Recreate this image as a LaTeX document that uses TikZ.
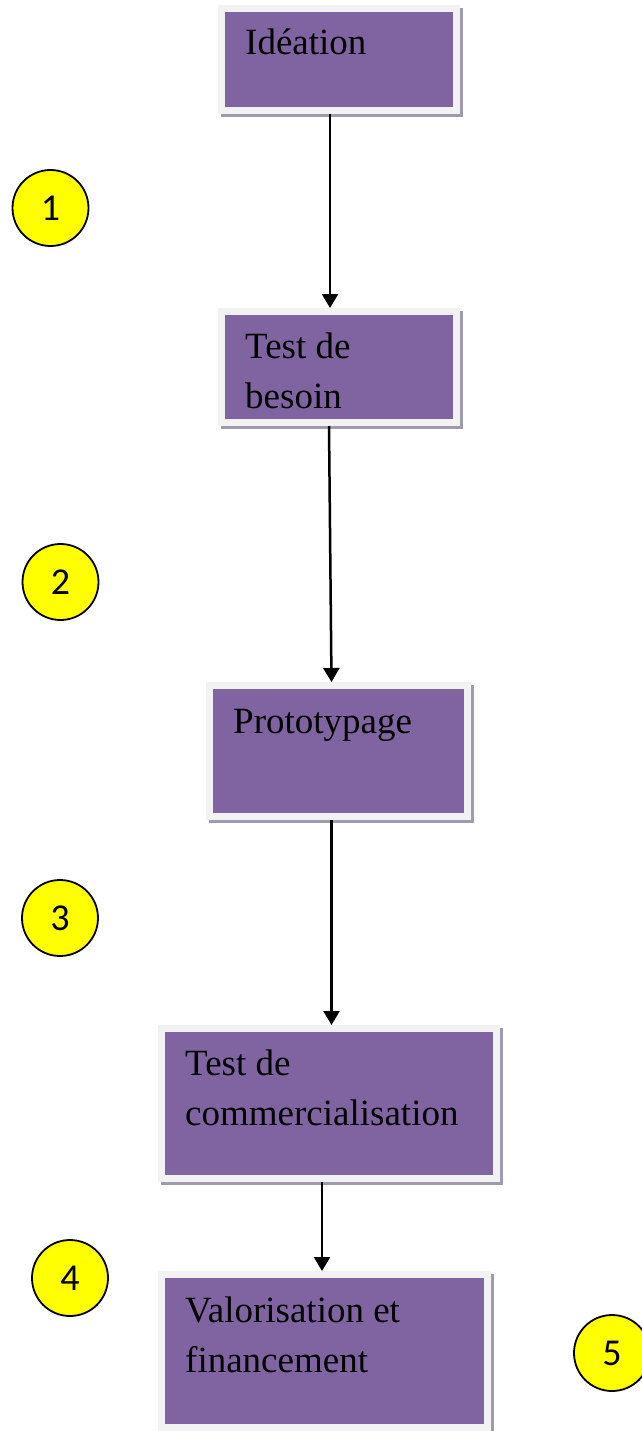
\documentclass[tikz,border=0pt]{standalone}
\usepackage{fontspec}
\setmainfont{Liberation Serif}
\newfontfamily\numfont{Carlito}
\usetikzlibrary{arrows.meta}
\definecolor{boxpurple}{HTML}{8064A2}
\definecolor{framegray}{HTML}{F2F2F2}
\definecolor{shadowgray}{RGB}{160,154,176}
\definecolor{circyellow}{HTML}{FFFF00}
\tikzset{
  box/.style={fill=boxpurple, draw=framegray, line width=7pt, inner sep=0pt,
    preaction={draw=shadowgray, fill=shadowgray, line width=7pt,
      transform canvas={xshift=3pt, yshift=-3pt}}},
  boxtext/.style={anchor=base west, inner sep=0pt, font=\fontsize{37}{50}\selectfont, text=black},
  num/.style={circle, draw=black, line width=1.8pt, fill=circyellow, minimum size=76pt,
    inner sep=0pt, font=\numfont\fontsize{38}{44}\selectfont},
  arr/.style={line width=2.5pt, -{Triangle[length=14pt, width=16pt]}}
}
\begin{document}
\begin{tikzpicture}[x=1pt, y=-1pt]
\useasboundingbox (0,0) rectangle (641,1431);
% boxes (purple size + 7 for the frame)
\node[box, minimum width=235pt, minimum height=102pt] (b1) at (339,59.5) {};
\node[box, minimum width=235pt, minimum height=111pt] (b2) at (339,367) {};
\node[box, minimum width=258pt, minimum height=131pt] (b3) at (338.5,751) {};
\node[box, minimum width=335pt, minimum height=150pt] (b4) at (329,1103.5) {};
\node[box, minimum width=326pt, minimum height=153pt] (b5) at (324.5,1351) {};
% texts (multi-line nodes anchored at the baseline of their last line)
\node[boxtext] (t1) at (245,55) {Idéation};
\node[boxtext, align=left] (t2) at (245,408) {Test de\\besoin};
\node[boxtext] (t3) at (233,733) {Prototypage};
\node[boxtext, align=left] (t4) at (185,1125) {Test de\\commercialisation};
\node[boxtext, align=left] (t5) at (185,1372) {Valorisation et\\financement};
% numbered circles
\node[num] (c1) at (50.5,208) {1};
\node[num] (c2) at (60.5,582) {2};
\node[num] (c3) at (60,918) {3};
\node[num] (c4) at (70,1278) {4};
\node[num] (c5) at (612,1353) {5};
% arrows
\draw[arr] ([xshift=-9pt]b1.south) -- ([xshift=-9pt]b1.south |- b2.north);
\draw[arr] ([xshift=-10pt]b2.south) -- ([xshift=-7pt]b3.north);
\draw[arr] ([xshift=-7pt]b3.south) -- ([xshift=-7pt]b3.south |- b4.north);
\draw[arr] ([xshift=-7pt]b4.south) -- ([xshift=-7pt]b4.south |- b5.north);
\end{tikzpicture}
\end{document}
